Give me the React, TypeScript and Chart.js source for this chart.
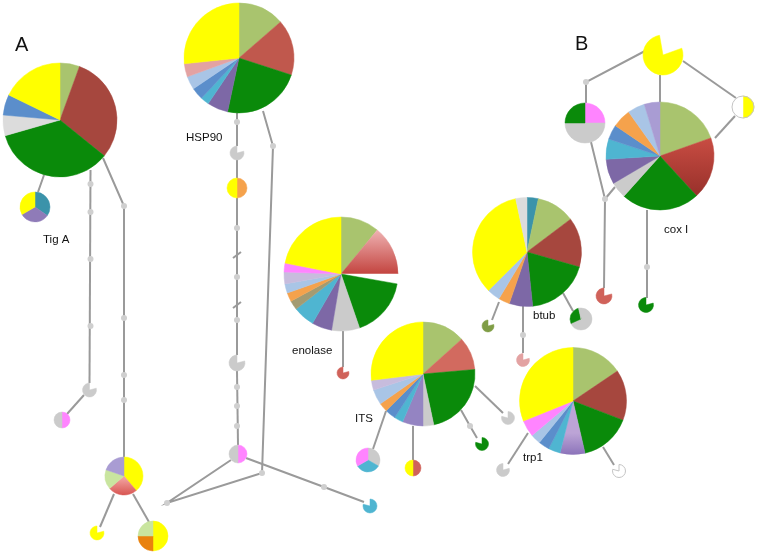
import React, { useEffect, useRef } from 'react';
import { Chart, registerables } from 'chart.js';

Chart.register(...registerables);

const W = 758;
const H = 554;

// palette
const Y = '#FFFF00';
const OL = '#A9C46E';
const BR = '#A6473E';
const RD = '#C0584D';
const RI = '#D26A5F';
const RS = '#D0625A';
const G = '#0A8A0A';
const GR = '#DCDCDC';
const GR2 = '#CBCBCB';
const BL = '#5B8ECB';
const LB = '#A9C5E6';
const PU = '#7D68A6';
const PU3 = '#9484C2';
const PK = '#FF84FF';
const OR = '#F5A24C';
const OR2 = '#E9820E';
const TE = '#4FB5D1';
const TE2 = '#3B93AA';
const LV = '#C7BCDD';
const LV2 = '#A99CD3';
const RO = '#E3A2A2';
const WH = '#FFFFFF';
const OB = '#A39B72';
const LG = '#C9E59F';
const OLD = '#7F9D45';

type Grad = { g: [string, string]; y0: number; y1: number };
type Col = string | Grad | null;
type PieNode = { x: number; y: number; size: number; parts: number[]; colors: Col[]; outline?: boolean };

const enoRed: Grad = { g: ['#F0B6B6', '#C3443F'], y0: -0.8, y1: 0 };
const coxRed: Grad = { g: ['#C74C42', '#97302A'], y0: -0.3, y1: 0.75 };
const tigRed: Grad = { g: ['#F2A2A0', '#D85552'], y0: 0.1, y1: 1 };
const trpPur: Grad = { g: ['#BCA4D6', '#8C74BA'], y0: 0.6, y1: 1 };

// pacman-shaped haplotypes (mouth up-right / up-left)
const ur = (c: string) => ({ parts: [75, 285], colors: [null, c] as Col[] });
const ul = (c: string) => ({ parts: [285, 75], colors: [c, null] as Col[] });

// ---- Tig A ----
const tigANodes: PieNode[] = [
  { x: 60, y: 120, size: 57, parts: [20, 109, 125, 21, 21, 64], colors: [OL, BR, G, GR, BL, Y] },
  { x: 35, y: 207, size: 15, parts: [125, 115, 120], colors: [TE2, '#8F7BB8', Y] },
  { x: 89.5, y: 390, size: 7, ...ur(GR2) },
  { x: 62, y: 420, size: 8, parts: [180, 180], colors: [PK, GR2] },
  { x: 124, y: 476, size: 19, parts: [140, 89, 60, 71], colors: [Y, tigRed, LG, LV2] },
  { x: 97, y: 533, size: 7, ...ur(Y) },
  { x: 153, y: 536, size: 15, parts: [180, 90, 90], colors: [Y, OR2, LG] },
];
const tigAEdges = [
  [[44, 175], [38, 192]],
  [[90.5, 170], [89.5, 383]],
  [[84, 395], [67, 414]],
  [[103, 158], [124, 206], [124, 457]],
  [[114, 494], [100, 527]],
  [[133, 494], [149, 522]],
];
const tigADots = [[90.5, 184], [90.5, 212], [90.5, 259], [90.5, 326], [124, 206], [124, 318], [124, 375], [124, 400]];

// ---- HSP90 ----
const hspNodes: PieNode[] = [
  { x: 239, y: 58, size: 55, parts: [49, 59, 84, 22, 9, 13, 14, 14, 96], colors: [OL, RD, G, PU, TE, BL, LB, RO, Y] },
  { x: 237, y: 153, size: 7, ...ur(GR2) },
  { x: 237, y: 188, size: 10, parts: [180, 180], colors: [OR, Y] },
  { x: 237, y: 363, size: 8, ...ur(GR2) },
  { x: 238, y: 454, size: 9, parts: [180, 180], colors: [PK, GR2] },
  { x: 370, y: 506, size: 7, ...ul(TE) },
];
const hspEdges = [
  [[237, 113], [237, 146]],
  [[237, 160], [237, 178]],
  [[237, 198], [237, 355]],
  [[237, 371], [238, 445]],
  [[231, 460], [167, 503], [262, 473], [273, 146], [263, 111]],
  [[246, 458], [324, 487], [364, 502]],
  [[233, 258], [241, 252]],
  [[233, 308], [241, 302]],
];
const hspDots = [[237, 122], [237, 228], [237, 277], [237, 320], [237, 387], [237, 406], [237, 426], [273, 146], [167, 503], [262, 473], [324, 487]];

// ---- enolase ----
const enoNodes: PieNode[] = [
  {
    x: 341, y: 274, size: 57,
    parts: [39.5, 50.5, 10, 61, 28.5, 20.5, 22, 9.5, 9, 9.5, 12, 9, 79],
    colors: [OL, enoRed, WH, G, GR2, PU, TE, OB, OR, LB, LV, PK, Y],
  },
  { x: 343, y: 373, size: 6, ...ur(RS) },
];
const enoEdges = [[[343, 331], [343, 367]]];

// ---- ITS ----
const itsNodes: PieNode[] = [
  { x: 423, y: 374, size: 52, parts: [48, 37, 83, 12, 23, 10, 12, 10, 17, 11, 97], colors: [OL, RI, G, GR2, PU3, TE, BL, OR, LB, LV, Y] },
  { x: 508, y: 418, size: 6.5, ...ul(GR2) },
  { x: 482, y: 444, size: 6.5, ...ul(G) },
  { x: 413, y: 468, size: 8, parts: [180, 180], colors: [RS, Y] },
  { x: 368, y: 460, size: 12, parts: [120, 120, 120], colors: [GR2, TE, PK] },
];
const itsEdges = [
  [[475, 386], [503, 413]],
  [[461, 410], [470, 426], [477, 438]],
  [[413, 426], [413, 460]],
  [[386, 411], [373, 449]],
];
const itsDots = [[470, 426]];

// ---- btub ----
const btubNodes: PieNode[] = [
  { x: 527, y: 252, size: 54.5, parts: [12, 41, 53, 68, 25, 12, 14, 123, 12], colors: [TE2, OL, BR, G, PU, OR, LB, Y, GR] },
  { x: 488, y: 326, size: 6, ...ur(OLD) },
  { x: 581, y: 319, size: 11, parts: [246, 101, 13], colors: [GR2, G, GR2] },
  { x: 523, y: 360, size: 6.5, ...ur(RO) },
];
const btubEdges = [
  [[499, 302], [492, 320]],
  [[563, 293], [573, 311]],
  [[523, 306], [523, 353]],
];
const btubDots = [[523, 335]];

// ---- trp1 ----
const trpNodes: PieNode[] = [
  { x: 573, y: 401, size: 53.5, parts: [56, 55, 56, 27, 13, 12, 11, 18, 112], colors: [OL, BR, G, trpPur, TE, BL, LB, PK, Y] },
  { x: 503, y: 470, size: 6.5, ...ur(GR2) },
  { x: 619, y: 471, size: 6.5, ...ul(WH), outline: true },
];
const trpEdges = [
  [[528, 433], [508, 464]],
  [[603, 447], [614, 465]],
];

// ---- cox I ----
const coxNodes: PieNode[] = [
  { x: 660, y: 156, size: 54, parts: [70.5, 67, 84.5, 17.6, 27, 21.8, 15.9, 20.3, 18.5, 17], colors: [OL, coxRed, G, GR2, PU, TE, BL, OR, LB, LV2] },
  { x: 663, y: 55, size: 20, parts: [70, 280, 10], colors: [null, Y, null] },
  { x: 585, y: 123, size: 20, parts: [90, 180, 90], colors: [PK, GR2, G] },
  { x: 743, y: 107, size: 11, parts: [180, 180], colors: [Y, WH], outline: true },
  { x: 604, y: 296, size: 8, ...ur(RS) },
  { x: 646, y: 305, size: 7.5, ...ur(G) },
];
const coxEdges = [
  [[660, 75], [660, 102]],
  [[645, 51], [586, 82], [586, 103]],
  [[683, 61], [736, 98]],
  [[735, 116], [715, 138]],
  [[591, 142], [605, 199], [604, 288]],
  [[605, 199], [615, 187]],
  [[647, 210], [647, 298]],
];
const coxDots = [[586, 82], [605, 199], [647, 267]];

// labels
const labelTexts = ['A', 'B', 'Tig A', 'HSP90', 'enolase', 'ITS', 'btub', 'trp1', 'cox I'];
const labelX = [15, 575, 43, 186, 292, 355, 533, 523, 664];
const labelY = [51, 50, 243, 141, 354, 422, 319, 461, 233];
const labelSize = [20, 20, 11.5, 11.5, 11.5, 11.5, 11.5, 11.5, 11.5];

const allNodes: PieNode[] = [...tigANodes, ...hspNodes, ...enoNodes, ...itsNodes, ...btubNodes, ...trpNodes, ...coxNodes];
const allEdges = [...tigAEdges, ...hspEdges, ...enoEdges, ...itsEdges, ...btubEdges, ...trpEdges, ...coxEdges];
const allDots = [...tigADots, ...hspDots, ...itsDots, ...btubDots, ...coxDots];

const piePlugin = {
  id: 'haplotypePies',
  afterDatasetsDraw(chart: any) {
    const ctx: CanvasRenderingContext2D = chart.ctx;
    const idx = chart.data.datasets.findIndex((d: any) => d.type === 'bubble');
    const meta = chart.getDatasetMeta(idx);
    ctx.save();
    meta.data.forEach((el: any, i: number) => {
      const node = allNodes[i];
      const cx = el.x;
      const cy = el.y;
      const r = el.options.radius;
      const total = node.parts.reduce((s, v) => s + v, 0);
      let a = -Math.PI / 2;
      let hasGap = false;
      node.parts.forEach((p, k) => {
        const a2 = a + (p / total) * Math.PI * 2;
        const col = node.colors[k];
        if (col) {
          let fill: any = col;
          if (typeof col !== 'string') {
            const gr = ctx.createLinearGradient(cx, cy + col.y0 * r, cx, cy + col.y1 * r);
            gr.addColorStop(0, col.g[0]);
            gr.addColorStop(1, col.g[1]);
            fill = gr;
          }
          ctx.beginPath();
          ctx.moveTo(cx, cy);
          ctx.arc(cx, cy, r, a, a2);
          ctx.closePath();
          ctx.fillStyle = fill;
          ctx.fill();
          ctx.strokeStyle = fill;
          ctx.lineWidth = 0.5;
          ctx.stroke();
        } else {
          hasGap = true;
        }
        a = a2;
      });
      if (node.outline) {
        ctx.strokeStyle = '#C4C4C4';
        ctx.lineWidth = 1;
        ctx.beginPath();
        if (hasGap) {
          let b = -Math.PI / 2;
          node.parts.forEach((p, k) => {
            const b2 = b + (p / total) * Math.PI * 2;
            if (node.colors[k]) {
              ctx.moveTo(cx, cy);
              ctx.arc(cx, cy, r, b, b2);
              ctx.closePath();
            }
            b = b2;
          });
        } else {
          ctx.arc(cx, cy, r, 0, Math.PI * 2);
        }
        ctx.stroke();
      }
    });
    const xs = chart.scales.x;
    const ys = chart.scales.y;
    ctx.fillStyle = '#111111';
    ctx.textAlign = 'left';
    ctx.textBaseline = 'alphabetic';
    labelTexts.forEach((t, i) => {
      ctx.font = `${labelSize[i]}px "Liberation Sans", Arial, sans-serif`;
      ctx.fillText(t, xs.getPixelForValue(labelX[i]), ys.getPixelForValue(labelY[i]));
    });
    ctx.restore();
  },
};

export default function App() {
  const ref = useRef<HTMLCanvasElement>(null);
  useEffect(() => {
    const datasets: any[] = [
      {
        type: 'scatter',
        data: allDots.map(([x, y]) => ({ x, y })),
        pointRadius: 3,
        pointBackgroundColor: '#CFCFCF',
        pointBorderWidth: 0,
        order: 1,
      },
      ...allEdges.map((e) => ({
        type: 'line',
        data: e.map(([x, y]) => ({ x, y })),
        borderColor: '#9A9A9A',
        borderWidth: 2,
        pointRadius: 0,
        fill: false,
        tension: 0,
        order: 2,
      })),
      {
        type: 'bubble',
        data: allNodes.map((n) => ({ x: n.x, y: n.y, r: n.size })),
        backgroundColor: 'rgba(0,0,0,0)',
        borderWidth: 0,
        order: 0,
      },
    ];
    const chart = new Chart(ref.current as HTMLCanvasElement, {
      type: 'bubble',
      data: { datasets },
      options: {
        animation: false,
        responsive: false,
        events: [],
        layout: { padding: 0, autoPadding: false },
        plugins: { legend: { display: false }, tooltip: { enabled: false } },
        scales: {
          x: { type: 'linear', min: 0, max: W, display: false },
          y: { type: 'linear', min: 0, max: H, reverse: true, display: false },
        },
      } as any,
      plugins: [piePlugin],
    });
    return () => chart.destroy();
  }, []);
  return (
    <canvas
      ref={ref}
      width={W}
      height={H}
      style={{ position: 'absolute', left: 0, top: 0, width: W, height: H, background: '#FFFFFF' }}
    />
  );
}
